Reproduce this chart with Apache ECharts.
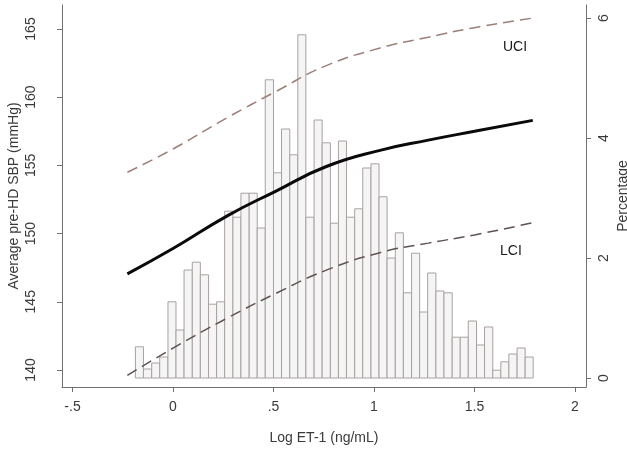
<!DOCTYPE html>
<html>
<head>
<meta charset="utf-8">
<script src="https://cdn.jsdelivr.net/npm/echarts@6/dist/echarts.min.js"></script>
<style>
html,body{margin:0;padding:0;background:#ffffff;}
#chart{width:627px;height:451px;}
</style>
</head>
<body>
<div id="chart"></div>
<script>
// ---- Data ----
// Histogram bins (left edges, Log ET-1) and bar heights (Percentage)
const binLeft = [-0.187,-0.147,-0.106,-0.066,-0.025,0.015,0.055,0.096,0.136,0.177,
  0.217,0.257,0.298,0.338,0.379,0.419,0.459,0.500,0.540,0.581,
  0.621,0.661,0.702,0.742,0.783,0.823,0.863,0.904,0.944,0.985,
  1.025,1.065,1.106,1.146,1.187,1.227,1.267,1.308,1.348,1.389,
  1.429,1.469,1.510,1.550,1.591,1.631,1.671,1.712,1.752];
const binRight = [-0.147,-0.106,-0.066,-0.025,0.015,0.055,0.096,0.136,0.177,0.217,
  0.257,0.298,0.338,0.379,0.419,0.459,0.500,0.540,0.581,0.621,
  0.661,0.702,0.742,0.783,0.823,0.863,0.904,0.944,0.985,1.025,
  1.065,1.106,1.146,1.187,1.227,1.267,1.308,1.348,1.389,1.429,
  1.469,1.510,1.550,1.591,1.631,1.671,1.712,1.752,1.792];
const percentage = [0.52,0.15,0.25,0.35,1.27,0.80,1.80,1.93,1.72,1.23,
  1.27,2.78,2.68,3.08,3.08,2.50,4.97,3.42,4.15,3.72,
  5.72,2.68,4.30,3.92,2.58,3.95,2.68,2.82,3.50,3.57,
  3.02,2.00,2.42,1.42,2.08,1.10,1.75,1.45,1.42,0.68,
  0.68,0.95,0.55,0.85,0.13,0.27,0.40,0.50,0.35];

// Fitted curve and confidence limits (Average pre-HD SBP, mmHg)
const curveX = [-0.227,0.0,0.27,0.51,0.76,1.03,1.27,1.5,1.79];
const fitSBP = [147.05,148.9,151.3,153.1,154.9,156.1,156.85,157.5,158.3];
const uciSBP = [154.5,156.2,158.5,160.4,162.3,163.6,164.4,165.1,165.8];
const lciSBP = [139.6,141.6,143.8,145.6,147.3,148.6,149.3,149.9,150.8];

// Tick values and labels
const xTicks = [-0.5,0,0.5,1,1.5,2];
const xTickLabels = ['-.5','0','.5','1','1.5','2'];
const yLeftTicks = [140,145,150,155,160,165];
const yRightTicks = [0,2,4,6];

// ---- Chart ----
const histData = binLeft.map((l,i)=>[l, binRight[i], percentage[i]]);
const zip = (xs, ys) => xs.map((x,i)=>[x, ys[i]]);

const axisColor = '#707070';
const labelColor = '#3a3a3a';
const fontFamily = '"Liberation Sans", Arial, sans-serif';

const chart = echarts.init(document.getElementById('chart'), null, {renderer:'canvas'});
chart.setOption({
  backgroundColor: '#ffffff',
  animation: false,
  grid: {left: 62, right: 41, top: 5, bottom: 64, containLabel: false, outerBoundsMode: 'none'},
  xAxis: {
    type: 'value', min: -0.5522, max: 2.0547,
    name: 'Log ET-1 (ng/mL)', nameLocation: 'middle', nameGap: 44,
    nameTextStyle: {color: labelColor, fontSize: 14, fontFamily},
    axisLine: {show: true, onZero: false, lineStyle: {color: axisColor, width: 1}},
    axisTick: {show: true, length: 5, customValues: xTicks, lineStyle: {color: axisColor}},
    axisLabel: {color: labelColor, fontSize: 14, fontFamily, margin: 13,
      customValues: xTicks,
      formatter: v => { const i = xTicks.findIndex(t => Math.abs(t - v) < 1e-6); return i >= 0 ? xTickLabels[i] : ''; }},
    splitLine: {show: false}
  },
  yAxis: [{
    type: 'value', position: 'left', min: 138.75, max: 166.76,
    name: 'Average pre-HD SBP (mmHg)', nameLocation: 'middle', nameGap: 41, nameRotate: 90,
    nameMoveOverlap: false,
    nameTextStyle: {color: labelColor, fontSize: 14, fontFamily},
    axisLine: {show: true, onZero: false, lineStyle: {color: axisColor, width: 1}},
    axisTick: {show: true, length: 5, customValues: yLeftTicks, lineStyle: {color: axisColor}},
    axisLabel: {color: labelColor, fontSize: 14, fontFamily, rotate: 90, margin: 24,
      customValues: yLeftTicks, formatter: v => String(Math.round(v))},
    splitLine: {show: false}
  }, {
    type: 'value', position: 'right', min: -0.15, max: 6.2167,
    name: 'Percentage', nameLocation: 'middle', nameGap: 30, nameRotate: 90,
    nameMoveOverlap: false,
    nameTextStyle: {color: labelColor, fontSize: 14, fontFamily},
    axisLine: {show: true, onZero: false, lineStyle: {color: axisColor, width: 1}},
    axisTick: {show: true, length: 5, customValues: yRightTicks, lineStyle: {color: axisColor}},
    axisLabel: {color: labelColor, fontSize: 14, fontFamily, rotate: 90, margin: 11,
      customValues: yRightTicks, formatter: v => String(Math.round(v))},
    splitLine: {show: false}
  }],
  series: [{
    type: 'custom', xAxisIndex: 0, yAxisIndex: 1, z: 1,
    data: histData,
    encode: {x: [0, 1], y: 2},
    renderItem: function (params, api) {
      const p0 = api.coord([api.value(0), api.value(2)]);
      const p1 = api.coord([api.value(1), 0]);
      return {
        type: 'rect',
        shape: {x: p0[0], y: p0[1], width: p1[0] - p0[0], height: p1[1] - p0[1]},
        style: {fill: '#f6f5f5', stroke: '#a9a1a0', lineWidth: 1}
      };
    }
  }, {
    type: 'line', xAxisIndex: 0, yAxisIndex: 0, z: 3, smooth: true, symbol: 'none',
    data: zip(curveX, uciSBP),
    lineStyle: {color: '#9c7f79', width: 1.5, type: [11, 6]}
  }, {
    type: 'line', xAxisIndex: 0, yAxisIndex: 0, z: 3, smooth: true, symbol: 'none',
    data: zip(curveX, lciSBP),
    lineStyle: {color: '#5f5352', width: 1.5, type: [11, 6]}
  }, {
    type: 'line', xAxisIndex: 0, yAxisIndex: 0, z: 4, smooth: true, symbol: 'none',
    data: zip(curveX, fitSBP),
    lineStyle: {color: '#0a0a0a', width: 3}
  }],
  graphic: [
    {type: 'text', left: 503, top: 40, style: {text: 'UCI', fill: '#1a1a1a', font: '14px "Liberation Sans", Arial, sans-serif'}},
    {type: 'text', left: 500, top: 244, style: {text: 'LCI', fill: '#1a1a1a', font: '14px "Liberation Sans", Arial, sans-serif'}}
  ]
});
</script>
</body>
</html>
